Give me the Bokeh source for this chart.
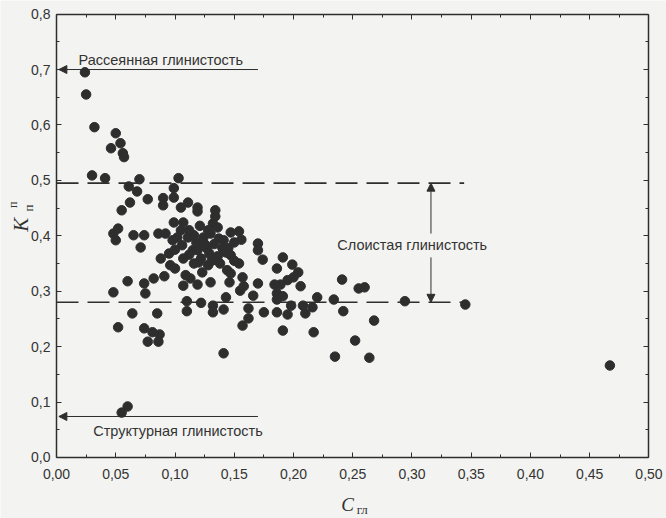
import math
from bokeh.plotting import figure
from bokeh.models import (Range1d, LinearAxis, FixedTicker, CustomJSTickFormatter,
                          Arrow, NormalHead, Label)
from bokeh.embed import file_html
from bokeh.resources import INLINE

# ---- data: clay content C_гл vs K_п^п ----
c_gl = [0.024, 0.025, 0.032, 0.050, 0.054, 0.046, 0.056, 0.057, 0.030, 0.041,
        0.061, 0.070, 0.068, 0.062, 0.077, 0.055, 0.103, 0.099, 0.090, 0.099,
        0.090, 0.105, 0.111, 0.119, 0.119, 0.134, 0.134, 0.132, 0.048, 0.052,
        0.050, 0.065, 0.074, 0.071, 0.099, 0.107, 0.105, 0.086, 0.092, 0.102,
        0.098, 0.106, 0.111, 0.116, 0.124, 0.130, 0.136, 0.137, 0.115, 0.119,
        0.095, 0.127, 0.129, 0.107, 0.122, 0.136, 0.143, 0.147, 0.150, 0.147,
        0.154, 0.156, 0.145, 0.088, 0.170, 0.170, 0.174, 0.191, 0.082, 0.091,
        0.096, 0.109, 0.113, 0.107, 0.119, 0.130, 0.123, 0.128, 0.138, 0.144,
        0.146, 0.154, 0.147, 0.157, 0.155, 0.158, 0.166, 0.170, 0.060, 0.074,
        0.048, 0.075, 0.186, 0.199, 0.204, 0.200, 0.195, 0.189, 0.184, 0.206,
        0.186, 0.191, 0.186, 0.220, 0.175, 0.186, 0.195, 0.198, 0.208, 0.216,
        0.210, 0.162, 0.162, 0.157, 0.191, 0.217, 0.110, 0.110, 0.122, 0.132,
        0.132, 0.141, 0.143, 0.085, 0.064, 0.052, 0.074, 0.081, 0.087, 0.077,
        0.086, 0.141, 0.055, 0.060, 0.241, 0.255, 0.260, 0.234, 0.242, 0.268,
        0.252, 0.235, 0.264, 0.294, 0.345, 0.467, 0.100, 0.120, 0.112, 0.118,
        0.125, 0.133, 0.141, 0.128, 0.121, 0.140, 0.112, 0.131, 0.100, 0.116,
        0.150]
k_pp = [0.695, 0.655, 0.596, 0.585, 0.567, 0.558, 0.549, 0.542, 0.509, 0.504,
        0.489, 0.502, 0.480, 0.460, 0.466, 0.446, 0.504, 0.486, 0.468, 0.469,
        0.455, 0.451, 0.460, 0.451, 0.444, 0.446, 0.435, 0.422, 0.404, 0.413,
        0.392, 0.401, 0.401, 0.379, 0.424, 0.424, 0.410, 0.404, 0.404, 0.397,
        0.392, 0.383, 0.397, 0.401, 0.397, 0.404, 0.415, 0.395, 0.374, 0.374,
        0.368, 0.377, 0.368, 0.359, 0.359, 0.363, 0.370, 0.365, 0.388, 0.406,
        0.408, 0.393, 0.378, 0.359, 0.386, 0.374, 0.357, 0.361, 0.323, 0.327,
        0.347, 0.329, 0.323, 0.310, 0.312, 0.316, 0.334, 0.347, 0.350, 0.338,
        0.316, 0.350, 0.332, 0.325, 0.301, 0.309, 0.292, 0.314, 0.318, 0.314,
        0.298, 0.296, 0.341, 0.348, 0.334, 0.325, 0.320, 0.312, 0.312, 0.309,
        0.296, 0.291, 0.285, 0.289, 0.262, 0.262, 0.258, 0.274, 0.274, 0.271,
        0.260, 0.269, 0.251, 0.238, 0.229, 0.226, 0.282, 0.264, 0.279, 0.274,
        0.262, 0.267, 0.289, 0.260, 0.260, 0.235, 0.233, 0.226, 0.222, 0.209,
        0.209, 0.188, 0.081, 0.092, 0.321, 0.305, 0.307, 0.285, 0.264, 0.247,
        0.211, 0.182, 0.180, 0.282, 0.276, 0.166, 0.341, 0.352, 0.410, 0.388,
        0.385, 0.385, 0.392, 0.410, 0.418, 0.378, 0.366, 0.355, 0.375, 0.350,
        0.355]

x_ticks = [0.00, 0.05, 0.10, 0.15, 0.20, 0.25, 0.30, 0.35, 0.40, 0.45, 0.50]
y_ticks = [0.0, 0.1, 0.2, 0.3, 0.4, 0.5, 0.6, 0.7, 0.8]

# thresholds / annotation levels
layered_upper = 0.495
layered_lower = 0.28
threshold_end = 0.344
dispersed_level = 0.70
structural_level = 0.074
arrow_from = 0.17
layered_arrow_x = 0.316

INK = "#2e2e2e"
PAPER = "#f3f3f1"
SANS = "Liberation Sans"
SERIF = "Liberation Serif"

# the frame covers the whole canvas; axes are pinned at the data box edges
p = figure(width=666, height=518, output_backend="svg", toolbar_location=None,
           x_range=Range1d(-0.04726, 0.51477), y_range=Range1d(-0.11006, 0.82454),
           min_border_left=0, min_border_right=0, min_border_top=0,
           min_border_bottom=0, x_axis_location=None, y_axis_location=None)
p.background_fill_color = PAPER
p.border_fill_color = PAPER
p.outline_line_color = None
p.xgrid.visible = False
p.ygrid.visible = False


def make_axis(ticks, fmt, show_labels, at, bounds):
    ax = LinearAxis(ticker=FixedTicker(ticks=ticks,
                                       minor_ticks=[(a + b) / 2 for a, b in zip(ticks[:-1], ticks[1:])]),
                    fixed_location=at, bounds=bounds)
    ax.formatter = CustomJSTickFormatter(code=fmt if show_labels else "return '';")
    ax.axis_line_color = INK
    ax.axis_line_width = 1.5
    ax.major_tick_line_color = INK
    ax.minor_tick_line_color = INK
    ax.major_tick_in = 5
    ax.major_tick_out = 0
    ax.minor_tick_in = 3
    ax.minor_tick_out = 0
    ax.major_label_text_font = SANS
    ax.major_label_text_font_size = "14px"
    ax.major_label_text_color = "#333333"
    return ax


xfmt = "return tick.toFixed(2).replace('.', ',');"
yfmt = "return tick.toFixed(1).replace('.', ',');"
ax_b = make_axis(x_ticks, xfmt, True, 0.0, (0.0, 0.5))
ax_b.major_label_standoff = 12
ax_l = make_axis(y_ticks, yfmt, True, 0.0, (0.0, 0.8))
ax_l.major_label_standoff = 6
p.add_layout(ax_b, "below")
p.add_layout(ax_l, "left")
p.add_layout(make_axis(x_ticks, xfmt, False, 0.8, (0.0, 0.5)), "above")
p.add_layout(make_axis(y_ticks, yfmt, False, 0.5, (0.0, 0.8)), "right")

# dashed boundaries of layered clay
p.segment(x0=[0, 0], y0=[layered_upper, layered_lower],
          x1=[threshold_end, threshold_end], y1=[layered_upper, layered_lower],
          line_color=INK, line_width=1.6, line_dash="22 9")

# points
p.scatter(c_gl, k_pp, size=9.5, fill_color=INK, line_color=INK)

# arrows
head = dict(size=8, fill_color=INK, line_color=INK)
for lvl in (dispersed_level, structural_level):
    p.add_layout(Arrow(x_start=arrow_from, y_start=lvl, x_end=0.002, y_end=lvl,
                       line_color=INK, line_width=1, end=NormalHead(**head)))
p.add_layout(Arrow(x_start=layered_arrow_x, y_start=0.404, x_end=layered_arrow_x,
                   y_end=layered_upper, line_color=INK, line_width=1,
                   end=NormalHead(**head)))
p.add_layout(Arrow(x_start=layered_arrow_x, y_start=0.361, x_end=layered_arrow_x,
                   y_end=layered_lower, line_color=INK, line_width=1,
                   end=NormalHead(**head)))


def txt(x, y, s, size, font=SANS, style="normal", align="left", angle=0.0):
    p.add_layout(Label(x=x, y=y, text=s, text_font=font, text_font_size=size,
                       text_font_style=style, text_color="#333333",
                       text_align=align, text_baseline="middle", angle=angle))


txt(0.0186, 0.717, "Рассеянная глинистость", "14.5px")
txt(0.031, 0.047, "Структурная глинистость", "14.5px")
txt(0.237, 0.383, "Слоистая глинистость", "14.5px")

# axis titles
txt(0.2456, -0.0848, "C", "19px", SERIF, "italic", "center")
txt(0.2580, -0.0930, "гл", "13px", SERIF, "normal", "center")
txt(-0.030, 0.420, "K", "21px", SERIF, "italic", "center", math.pi / 2)
txt(-0.024, 0.450, "п", "13px", SERIF, "normal", "center", math.pi / 2)
txt(-0.037, 0.456, "п", "12px", SERIF, "normal", "center", math.pi / 2)

open("out.html", "w").write(file_html(p, INLINE))
